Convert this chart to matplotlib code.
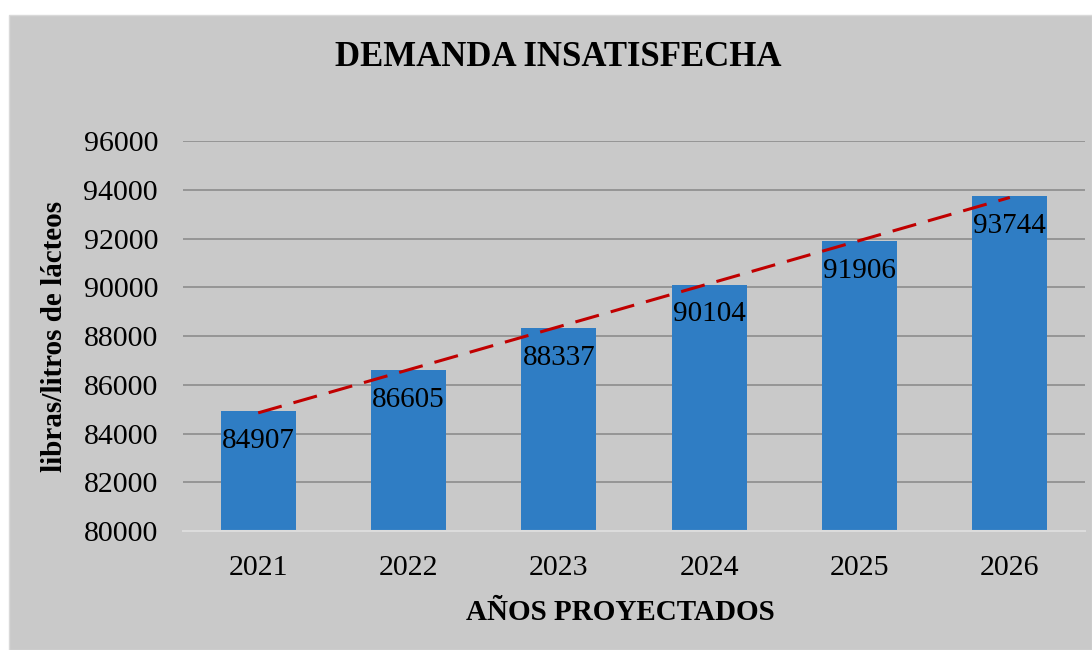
import numpy as np
import matplotlib.pyplot as plt
from matplotlib.patches import Rectangle

plt.rcParams['font.family'] = ['Liberation Serif', 'DejaVu Serif']

# datos
anios = ['2021', '2022', '2023', '2024', '2025', '2026']
demanda = [84907, 86605, 88337, 90104, 91906, 93744]

fig = plt.figure(figsize=(10.92, 6.5), dpi=100)
fig.patch.set_facecolor('white')
# fondo gris del gráfico
fig.patches.append(Rectangle((9 / 1092, 0), 1 - 9 / 1092, 1 - 15 / 650,
                             transform=fig.transFigure, facecolor='#C9C9C9',
                             edgecolor='#D9D9D9', lw=1, zorder=-10))

ax = fig.add_axes([0.1676, 0.183, 0.826, 0.6])
ax.set_facecolor('#C9C9C9')

x = np.arange(len(anios))
ax.bar(x, demanda, width=0.5, color='#2F7DC4', zorder=2)

# línea de tendencia lineal
m, b = np.polyfit(x, demanda, 1)
ax.plot(x, m * x + b, color='#C00000', ls=(0, (8, 4)), lw=2.2, zorder=3)

for xi, v in zip(x, demanda):
    ax.annotate(str(v), (xi, v), xytext=(0, -12), textcoords='offset points',
                ha='center', va='top', fontsize=21, zorder=4)

ax.set_ylim(80000, 96000)
ax.set_yticks(range(80000, 96001, 2000))
ax.set_xlim(-0.5, 5.5)
ax.set_xticks(x)
ax.set_xticklabels(anios)
ax.tick_params(axis='both', length=0, labelsize=21.5)
ax.tick_params(axis='y', pad=18)
ax.tick_params(axis='x', pad=17)
ax.grid(axis='y', color='#8C8C8C', lw=1.2, zorder=1)
for s in ['top', 'right', 'left']:
    ax.spines[s].set_visible(False)
ax.spines['bottom'].set_color('#DCDCDC')
ax.spines['bottom'].set_linewidth(1.5)

fig.text(0.511, 0.912, 'DEMANDA INSATISFECHA', ha='center', va='center',
         fontsize=25, fontweight='bold')
fig.text(0.05, 0.482, 'libras/litros de lácteos', ha='center', va='center',
         rotation=90, fontsize=21, fontweight='bold')
fig.text(0.568, 0.058, 'AÑOS PROYECTADOS', ha='center', va='center',
         fontsize=21, fontweight='bold')

fig.savefig('out.png', dpi=100)
